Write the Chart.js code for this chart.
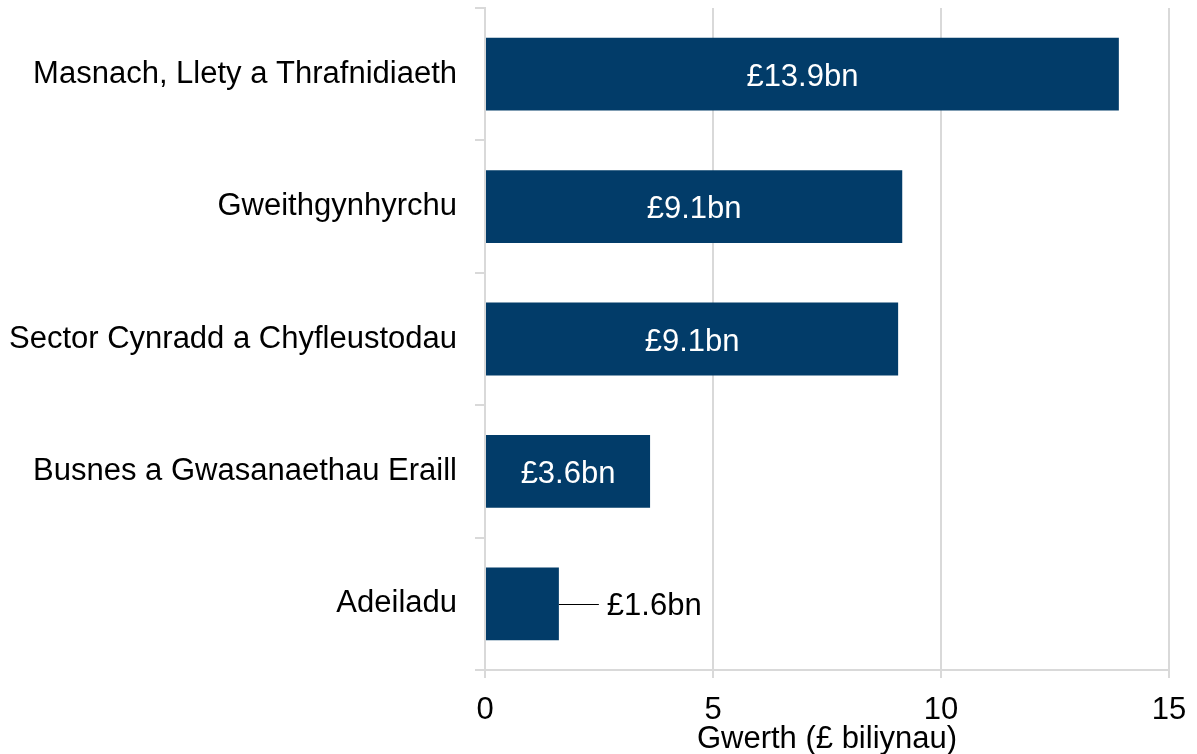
<!DOCTYPE html>
<html>
<head>
<meta charset="utf-8">
<script src="https://cdn.jsdelivr.net/npm/chart.js@4"></script>
<style>
  html, body { margin: 0; padding: 0; background: #ffffff; }
  #wrap { width: 1197px; height: 754px; }
</style>
</head>
<body>
<div id="wrap"><canvas id="gvaChart"></canvas></div>
<script>
const sectors = [
    "Masnach, Llety a Thrafnidiaeth",
    "Gweithgynhyrchu",
    "Sector Cynradd a Chyfleustodau",
    "Busnes a Gwasanaethau Eraill",
    "Adeiladu"
];
const values = [13.9, 9.15, 9.06, 3.62, 1.62];
const valueLabels = ["£13.9bn", "£9.1bn", "£9.1bn", "£3.6bn", "£1.6bn"];
const xTicks = [0, 5, 10, 15];

const BAR_COLOUR = "#023c69";
const GRID_COLOUR = "#d9d9d9";
const FONT = "'Liberation Sans', Arial, sans-serif";

// labels inside the bars, or outside with a short leader line if the bar is too short
const barLabels = {
    id: "barLabels",
    afterDatasetsDraw(chart) {
        const ctx = chart.ctx;
        const meta = chart.getDatasetMeta(0);
        ctx.save();
        ctx.font = "31px " + FONT;
        ctx.textBaseline = "middle";
        meta.data.forEach((bar, i) => {
            const text = valueLabels[i];
            const w = ctx.measureText(text).width;
            const len = bar.x - bar.base;
            if (w + 20 < len) {
                ctx.fillStyle = "#ffffff";
                ctx.textAlign = "center";
                ctx.fillText(text, (bar.x + bar.base) / 2, bar.y + 3);
            } else {
                const ly = Math.round(bar.y) + 0.5;
                ctx.strokeStyle = "#000000";
                ctx.lineWidth = 1;
                ctx.beginPath();
                ctx.moveTo(bar.x, ly);
                ctx.lineTo(bar.x + 40, ly);
                ctx.stroke();
                ctx.fillStyle = "#000000";
                ctx.textAlign = "left";
                ctx.fillText(text, bar.x + 48, bar.y + 3);
            }
        });
        ctx.restore();
    }
};

const ctx = document.getElementById("gvaChart").getContext("2d");

new Chart(ctx, {
    type: "bar",
    data: {
        labels: sectors,
        datasets: [{
            data: values,
            backgroundColor: BAR_COLOUR,
            borderWidth: 0,
            barPercentage: 0.55,
            categoryPercentage: 1.0
        }]
    },
    options: {
        indexAxis: "y",
        responsive: true,
        maintainAspectRatio: false,
        animation: false,
        layout: { padding: { top: 8, right: 28, left: 0, bottom: 0 } },
        plugins: {
            legend: { display: false },
            tooltip: { enabled: false }
        },
        scales: {
            x: {
                min: 0,
                max: 15,
                afterBuildTicks(scale) {
                    scale.ticks = xTicks.map(v => ({ value: v }));
                },
                grid: {
                    color: GRID_COLOUR,
                    lineWidth: 2,
                    tickLength: 8
                },
                border: { display: true, color: GRID_COLOUR, width: 2 },
                ticks: {
                    color: "#000000",
                    font: { family: FONT, size: 31 },
                    padding: 14,
                    maxRotation: 0
                },
                title: {
                    display: true,
                    text: "Gwerth (£ biliynau)",
                    color: "#000000",
                    font: { family: FONT, size: 31 },
                    padding: { top: -6, bottom: -4 }
                },
                afterFit(scale) {
                    scale.height = 84;
                    scale.paddingLeft = 0;
                    scale.paddingRight = 0;
                }
            },
            y: {
                offset: true,
                grid: {
                    offset: true,
                    drawOnChartArea: false,
                    color: GRID_COLOUR,
                    lineWidth: 2,
                    tickLength: 10
                },
                border: { display: true, color: GRID_COLOUR, width: 2 },
                ticks: {
                    color: "#000000",
                    font: { family: FONT, size: 31 },
                    padding: 18
                },
                afterFit(scale) {
                    scale.width = 485;
                    scale.paddingTop = 0;
                    scale.paddingBottom = 0;
                }
            }
        }
    },
    plugins: [barLabels]
});
</script>
</body>
</html>
